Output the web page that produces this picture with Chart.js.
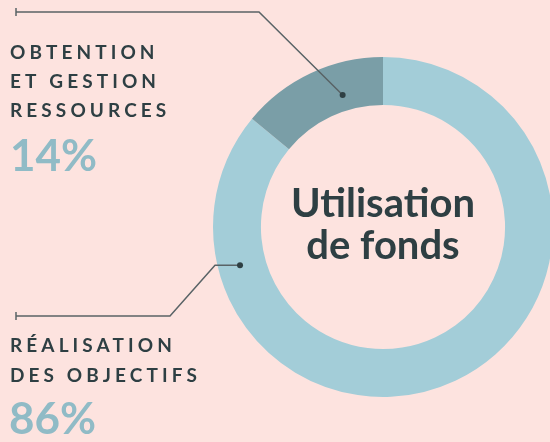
<!DOCTYPE html>
<html>
<head>
<meta charset="utf-8">
<script src="https://cdn.jsdelivr.net/npm/chart.js@4/dist/chart.umd.min.js"></script>
<style>
  html, body { margin: 0; padding: 0; background: #FDE3DF; overflow: hidden; }
  #wrap { position: absolute; left: 0; top: 0; width: 560px; height: 442px; }
</style>
</head>
<body>
<div id="wrap"><canvas id="c" width="560" height="442"></canvas></div>
<script>
// Fund allocation (percent)
const categories = ['Réalisation des objectifs', 'Obtention et gestion ressources'];
const shares = [86, 14];
const labelLines = [['RÉALISATION', 'DES OBJECTIFS'], ['OBTENTION', 'ET GESTION', 'RESSOURCES']];
const centerTitle = ['Utilisation', 'de fonds'];

const BG = '#FDE3DF';
const INK = '#2E3F43';
const PCT = '#90BBC6';
const LEADER = '#596366';

// Labels, leader lines and the centre title
const annotations = {
  id: 'annotations',
  afterDatasetsDraw(chart) {
    const ctx = chart.ctx;
    const meta = chart.getDatasetMeta(0);
    const arc0 = meta.data[0];
    const cx = arc0.x, cy = arc0.y;
    const midR = (arc0.innerRadius + arc0.outerRadius) / 2;
    // point on the ring at an angle measured clockwise from 12 o'clock
    const onRing = (deg, r) => {
      const a = (deg - 90) * Math.PI / 180;
      return [cx + r * Math.cos(a), cy + r * Math.sin(a)];
    };

    ctx.save();
    // centre title
    ctx.fillStyle = INK;
    ctx.textAlign = 'center';
    ctx.textBaseline = 'alphabetic';
    ctx.font = 'bold 40px Lato';
    ctx.fillText(centerTitle[0], cx, cy - 10);
    ctx.fillText(centerTitle[1], cx, cy + 32);

    // leader lines
    ctx.strokeStyle = LEADER;
    ctx.lineWidth = 1.5;
    const tick = (x, y) => {
      ctx.beginPath(); ctx.moveTo(x, y - 4); ctx.lineTo(x, y + 4); ctx.stroke();
    };
    const dot = (x, y) => {
      ctx.fillStyle = INK;
      ctx.beginPath(); ctx.arc(x, y, 3, 0, Math.PI * 2); ctx.fill();
    };

    // upper label -> dark segment
    const [d1x, d1y] = onRing(343, midR - 8);
    ctx.beginPath();
    ctx.moveTo(16, 12); ctx.lineTo(259, 12); ctx.lineTo(d1x, d1y); ctx.stroke();
    tick(16, 12); dot(d1x, d1y);

    // lower label -> light segment
    const [d2x, d2y] = onRing(255, midR + 2);
    ctx.beginPath();
    ctx.moveTo(16, 316); ctx.lineTo(170, 316); ctx.lineTo(215, d2y); ctx.lineTo(d2x, d2y); ctx.stroke();
    tick(16, 316); dot(d2x, d2y);

    // category labels
    ctx.textAlign = 'left';
    ctx.fillStyle = INK;
    ctx.font = 'bold 19px Lato';
    ctx.letterSpacing = '4.1px';
    const topBase = [59, 88, 117];
    labelLines[1].forEach((t, i) => ctx.fillText(t, 10, topBase[i]));
    const botBase = [352, 382];
    labelLines[0].forEach((t, i) => ctx.fillText(t, 10, botBase[i]));

    // percentages
    ctx.letterSpacing = '0px';
    ctx.fillStyle = PCT;
    ctx.font = 'bold 44px Lato';
    ctx.fillText(shares[1] + '%', 10, 171);
    ctx.fillText(shares[0] + '%', 9, 434);
    ctx.restore();
  }
};

new Chart(document.getElementById('c'), {
  type: 'doughnut',
  data: {
    labels: categories,
    datasets: [{
      data: shares,
      backgroundColor: ['#A3CDD8', '#7A9EA7'],
      borderWidth: 0,
      hoverOffset: 0
    }]
  },
  options: {
    responsive: false,
    animation: false,
    cutout: '71.8%',
    rotation: 0,
    layout: { padding: { left: 213, right: 7, top: 57, bottom: 45 } },
    plugins: { legend: { display: false }, tooltip: { enabled: false } },
    events: []
  },
  plugins: [annotations]
});
</script>
</body>
</html>
